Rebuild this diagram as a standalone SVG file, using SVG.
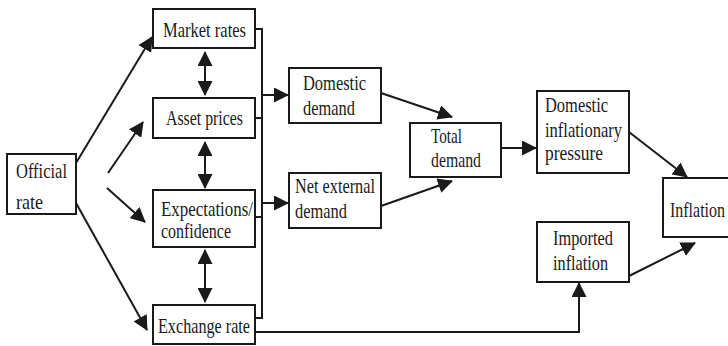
<svg xmlns="http://www.w3.org/2000/svg" width="728" height="346" viewBox="0 0 728 346">
<style>
.box{fill:#fff;stroke:#1a1a1a;stroke-width:2}
.t{font-family:"Liberation Serif","Times New Roman",serif;font-size:21px;fill:#1a1a1a}
.c{fill:none;stroke:#1a1a1a;stroke-width:2}
</style>
<defs>
<marker id="ah" markerUnits="userSpaceOnUse" markerWidth="15" markerHeight="15" viewBox="0 0 15 15" refX="14" refY="7.5" orient="auto-start-reverse">
<path d="M0,0 L15,7.5 L0,15 Z" fill="#1a1a1a"/>
</marker>
</defs>
<rect width="728" height="346" fill="#fff"/>
<g id="connectors">
<line class="c" x1="76" y1="163" x2="152" y2="37" marker-end="url(#ah)"/>
<line class="c" x1="108" y1="173" x2="143" y2="122" marker-end="url(#ah)"/>
<line class="c" x1="107" y1="188" x2="145" y2="222" marker-end="url(#ah)"/>
<line class="c" x1="76" y1="203" x2="147" y2="330" marker-end="url(#ah)"/>
<line class="c" x1="205" y1="52" x2="205" y2="95" marker-start="url(#ah)" marker-end="url(#ah)"/>
<line class="c" x1="205" y1="142" x2="205" y2="188" marker-start="url(#ah)" marker-end="url(#ah)"/>
<line class="c" x1="205" y1="250" x2="205" y2="302" marker-start="url(#ah)" marker-end="url(#ah)"/>
<path class="c" d="M255,29 H262 V318 H255"/>
<line class="c" x1="255" y1="118" x2="262" y2="118"/>
<line class="c" x1="255" y1="217" x2="262" y2="217"/>
<line class="c" x1="262" y1="95" x2="288" y2="95" marker-end="url(#ah)"/>
<line class="c" x1="262" y1="203" x2="288" y2="203" marker-end="url(#ah)"/>
<line class="c" x1="381" y1="93" x2="452" y2="117" marker-end="url(#ah)"/>
<line class="c" x1="381" y1="206" x2="452" y2="181" marker-end="url(#ah)"/>
<line class="c" x1="501" y1="148" x2="536" y2="148" marker-end="url(#ah)"/>
<line class="c" x1="629" y1="132" x2="687" y2="177" marker-end="url(#ah)"/>
<line class="c" x1="629" y1="276" x2="695" y2="243" marker-end="url(#ah)"/>
<path class="c" d="M255,332 H579 V283" marker-end="url(#ah)"/>
</g>
<g id="official">
<rect class="box" x="7" y="154" width="69" height="60"/>
<text class="t" x="16" y="178" textLength="51" lengthAdjust="spacingAndGlyphs">Official</text>
<text class="t" x="16" y="209" textLength="27" lengthAdjust="spacingAndGlyphs">rate</text>
</g>
<g id="market-rates">
<rect class="box" x="153" y="9" width="102" height="39"/>
<text class="t" x="163" y="37" textLength="83" lengthAdjust="spacingAndGlyphs">Market rates</text>
</g>
<g id="asset-prices">
<rect class="box" x="153" y="98" width="102" height="40"/>
<text class="t" x="166" y="125" textLength="77" lengthAdjust="spacingAndGlyphs">Asset prices</text>
</g>
<g id="expectations">
<rect class="box" x="153" y="190" width="102" height="57"/>
<text class="t" x="161" y="216" textLength="92" lengthAdjust="spacingAndGlyphs">Expectations/</text>
<text class="t" x="161" y="238" textLength="70" lengthAdjust="spacingAndGlyphs">confidence</text>
</g>
<g id="exchange-rate">
<rect class="box" x="153" y="305" width="102" height="39"/>
<text class="t" x="158" y="333" textLength="92" lengthAdjust="spacingAndGlyphs">Exchange rate</text>
</g>
<g id="domestic-demand">
<rect class="box" x="289" y="68" width="92" height="55"/>
<text class="t" x="303" y="90" textLength="63" lengthAdjust="spacingAndGlyphs">Domestic</text>
<text class="t" x="303" y="115" textLength="52" lengthAdjust="spacingAndGlyphs">demand</text>
</g>
<g id="net-external-demand">
<rect class="box" x="289" y="173" width="92" height="55"/>
<text class="t" x="295" y="193" textLength="80" lengthAdjust="spacingAndGlyphs">Net external</text>
<text class="t" x="295" y="218" textLength="52" lengthAdjust="spacingAndGlyphs">demand</text>
</g>
<g id="total-demand">
<rect class="box" x="410" y="123" width="91" height="54"/>
<text class="t" x="431" y="143" textLength="31" lengthAdjust="spacingAndGlyphs">Total</text>
<text class="t" x="431" y="167" textLength="50" lengthAdjust="spacingAndGlyphs">demand</text>
</g>
<g id="domestic-inflationary-pressure">
<rect class="box" x="537" y="91" width="92" height="82"/>
<text class="t" x="545" y="112" textLength="63" lengthAdjust="spacingAndGlyphs">Domestic</text>
<text class="t" x="545" y="137" textLength="77" lengthAdjust="spacingAndGlyphs">inflationary</text>
<text class="t" x="545" y="160" textLength="58" lengthAdjust="spacingAndGlyphs">pressure</text>
</g>
<g id="imported-inflation">
<rect class="box" x="537" y="222" width="92" height="60"/>
<text class="t" x="553" y="245" textLength="60" lengthAdjust="spacingAndGlyphs">Imported</text>
<text class="t" x="553" y="270" textLength="55" lengthAdjust="spacingAndGlyphs">inflation</text>
</g>
<g id="inflation">
<rect class="box" x="663" y="178" width="80" height="59"/>
<text class="t" x="670" y="217" textLength="55" lengthAdjust="spacingAndGlyphs">Inflation</text>
</g>
</svg>
